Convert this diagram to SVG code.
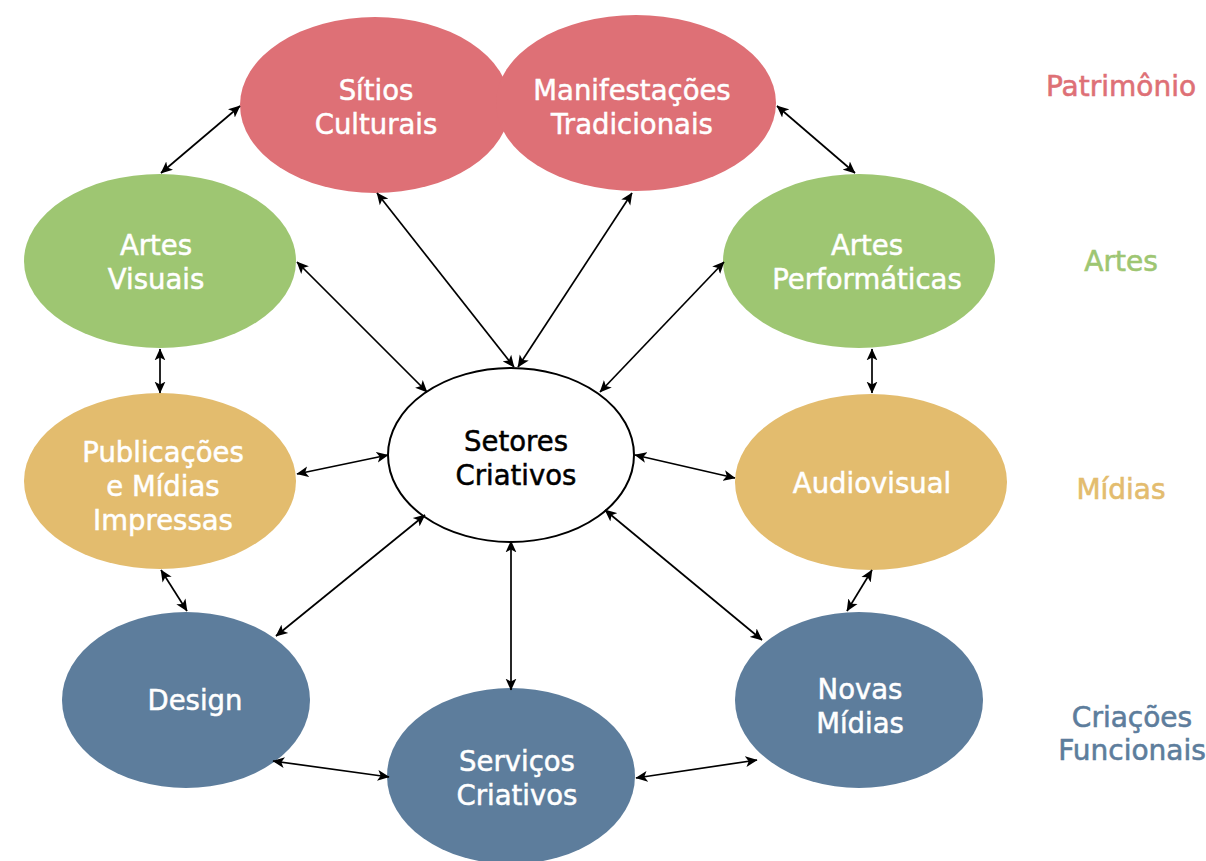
<svg xmlns="http://www.w3.org/2000/svg" width="1206" height="861" viewBox="0 0 1206 861">
<defs>
<marker id="ah" viewBox="0 0 10 10" refX="9.5" refY="5" markerWidth="12" markerHeight="12" markerUnits="userSpaceOnUse" orient="auto-start-reverse">
<path d="M0,0.5 L10,5 L0,9.5 L2.5,5 z" fill="#000"/>
</marker>
<style>
.n text{font-family:"DejaVu Sans","Liberation Sans",sans-serif;font-size:27.5px;fill:#fff;stroke:#fff;stroke-width:0.5;text-anchor:middle}
.n text.dark{fill:#000;stroke:#000}
.red{fill:#DE7076}.green{fill:#9EC672}.yellow{fill:#E3BC6E}.blue{fill:#5D7D9C}
.c line{stroke:#000;stroke-width:1.7;marker-start:url(#ah);marker-end:url(#ah)}
.lbl{font-family:"DejaVu Sans","Liberation Sans",sans-serif;font-size:28px;stroke-width:0.6;text-anchor:middle}
</style>
</defs>
<rect width="1206" height="861" fill="#fff"/>
<g id="sitios" class="n"><ellipse class="red" cx="375" cy="105" rx="135" ry="88"/><text x="376" y="100">Sítios</text><text x="376" y="134">Culturais</text></g>
<g id="manifestacoes" class="n"><ellipse class="red" cx="636" cy="103" rx="140" ry="88"/><text x="632" y="100">Manifestações</text><text x="632" y="134">Tradicionais</text></g>
<g id="artes-visuais" class="n"><ellipse class="green" cx="160" cy="261" rx="136" ry="87"/><text x="156" y="255">Artes</text><text x="156" y="289">Visuais</text></g>
<g id="artes-performaticas" class="n"><ellipse class="green" cx="859" cy="261" rx="136" ry="87"/><text x="867" y="255">Artes</text><text x="867" y="289">Performáticas</text></g>
<g id="publicacoes" class="n"><ellipse class="yellow" cx="160" cy="481" rx="136" ry="88"/><text x="163" y="462">Publicações</text><text x="163" y="496">e Mídias</text><text x="163" y="530">Impressas</text></g>
<g id="audiovisual" class="n"><ellipse class="yellow" cx="871" cy="482" rx="136" ry="88"/><text x="872" y="493">Audiovisual</text></g>
<g id="setores" class="n"><ellipse cx="511" cy="455" rx="123" ry="87" fill="#fff" stroke="#000" stroke-width="2"/><text class="dark" x="516" y="451">Setores</text><text class="dark" x="516" y="485">Criativos</text></g>
<g id="design" class="n"><ellipse class="blue" cx="186" cy="700" rx="124" ry="88"/><text x="195" y="710">Design</text></g>
<g id="servicos" class="n"><ellipse class="blue" cx="511" cy="776" rx="124" ry="88"/><text x="517" y="771">Serviços</text><text x="517" y="805">Criativos</text></g>
<g id="novas-midias" class="n"><ellipse class="blue" cx="859" cy="700" rx="124" ry="88"/><text x="860" y="699">Novas</text><text x="860" y="733">Mídias</text></g>
<g id="connectors" class="c">
<line x1="240" y1="106" x2="161" y2="173"/>
<line x1="777" y1="106" x2="855" y2="173"/>
<line x1="377" y1="193" x2="514" y2="367"/>
<line x1="632" y1="193" x2="518" y2="367"/>
<line x1="297" y1="262" x2="427" y2="392"/>
<line x1="724" y1="262" x2="600" y2="392"/>
<line x1="160" y1="349" x2="160" y2="393"/>
<line x1="872" y1="349" x2="872" y2="393"/>
<line x1="297" y1="474" x2="388" y2="455"/>
<line x1="635" y1="455" x2="735" y2="478"/>
<line x1="161" y1="570" x2="187" y2="611"/>
<line x1="872" y1="570" x2="847" y2="611"/>
<line x1="425" y1="515" x2="276" y2="636"/>
<line x1="511" y1="541" x2="511" y2="690"/>
<line x1="605" y1="510" x2="762" y2="640"/>
<line x1="273" y1="761" x2="389" y2="777"/>
<line x1="636" y1="778" x2="757" y2="760"/>
</g>
<g id="legend">
<text class="lbl" x="1121" y="96" fill="#DE7076" stroke="#DE7076">Patrimônio</text>
<text class="lbl" x="1121" y="271" fill="#9EC672" stroke="#9EC672">Artes</text>
<text class="lbl" x="1121" y="499" fill="#E3BC6E" stroke="#E3BC6E">Mídias</text>
<text class="lbl" x="1132" y="727" fill="#5D7D9C" stroke="#5D7D9C">Criações</text>
<text class="lbl" x="1132" y="760" fill="#5D7D9C" stroke="#5D7D9C">Funcionais</text>
</g>
</svg>
